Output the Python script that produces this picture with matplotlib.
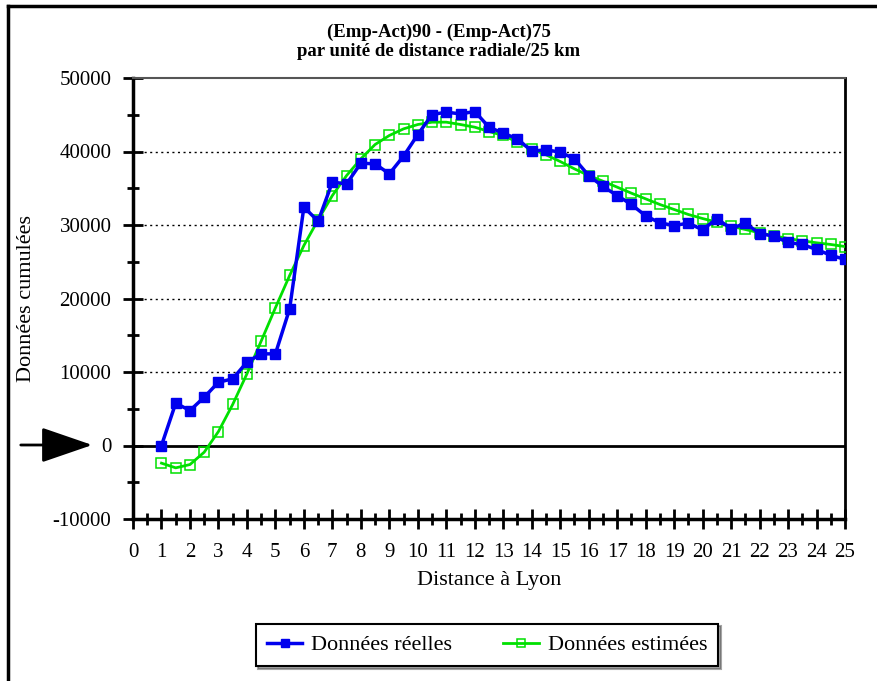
import numpy as np
import matplotlib.pyplot as plt
from matplotlib.ticker import MultipleLocator
from matplotlib.lines import Line2D

plt.rcParams['font.family'] = ['Liberation Serif', 'DejaVu Serif']
plt.rcParams['axes.unicode_minus'] = False

# distance (unités de 25 km)
distance = np.arange(1, 25.5, 0.5)

reelles = [0, 5760, 4760, 6570, 8610, 9070, 11340, 12470, 12470, 18590,
           32430, 30520, 35830, 35600, 38410, 38320, 36960, 39370, 42300, 45030,
           45350, 45120, 45440, 43310, 42490, 41720, 40040, 40230, 39910, 39000,
           36730, 35240, 34010, 32790, 31250, 30290, 29930, 30250, 29340, 30880,
           29480, 30250, 28840, 28480, 27620, 27350, 26670, 25890, 25310]

estimees = [-2400, -3040, -2590, -910, 1900, 5580, 9750, 14200, 18730, 23130,
            27210, 30700, 34010, 36730, 39000, 40950, 42180, 43080, 43670, 43990,
            43990, 43670, 43310, 42720, 42180, 41270, 40360, 39550, 38640, 37640,
            36730, 35960, 35150, 34330, 33560, 32790, 32110, 31430, 30880, 30380,
            29840, 29390, 28940, 28530, 28160, 27850, 27580, 27350, 27070]

fig = plt.figure(figsize=(8.78, 6.81), dpi=100)
ax = fig.add_axes([133/878, 1 - 519/681, (845 - 133)/878, (519 - 78)/681])

ax.axhline(0, color='black', lw=2, zorder=1)
for g in [10000, 20000, 30000, 40000]:
    ax.axhline(g, color='black', lw=1, ls=(0, (1.5, 2.5)), zorder=1)

ax.plot(distance, estimees, color='#00e000', lw=2, marker='s', ms=6.5,
        mfc='none', mec='#00e000', mew=1.1, zorder=3, label='Données estimées')
ax.plot(distance, reelles, color='#0000ee', lw=2.5, marker='s', ms=6.5,
        mfc='#0000ee', mec='#0000ee', zorder=4, label='Données réelles')

ax.set_xlim(0, 25)
ax.set_ylim(-10000, 50000)
ax.xaxis.set_major_locator(MultipleLocator(1))
ax.xaxis.set_minor_locator(MultipleLocator(0.5))
ax.yaxis.set_major_locator(MultipleLocator(10000))
ax.yaxis.set_minor_locator(MultipleLocator(5000))
ax.tick_params(which='major', direction='inout', length=15, width=2, labelsize=15)
ax.tick_params(which='minor', direction='inout', length=8, width=2)
ax.tick_params(axis='x', which='major', pad=10)
ax.tick_params(axis='y', which='major', pad=8)
ax.tick_params(axis='x', which='both', top=False)
ax.tick_params(axis='y', which='both', right=False)

for s in ['left', 'bottom']:
    ax.spines[s].set_linewidth(2.5)
ax.spines['top'].set_linewidth(1.5)
ax.spines['top'].set_color('#555555')
ax.spines['right'].set_linewidth(2)

ax.set_xlabel('Distance à Lyon', fontsize=16, labelpad=6)
ax.set_ylabel('Données cumulées', fontsize=16, labelpad=12)

fig.text(0.5, 1 - 37/681, '(Emp-Act)90 - (Emp-Act)75', ha='center', va='baseline',
         fontsize=13.5, fontweight='bold')
fig.text(0.5, 1 - 56/681, 'par unité de distance radiale/25 km', ha='center', va='baseline',
         fontsize=13.5, fontweight='bold')

# cadre extérieur
fig.add_artist(Line2D([8/878, 1], [1 - 6/681, 1 - 6/681], color='black', lw=2.5))
fig.add_artist(Line2D([8/878, 8/878], [0, 1 - 6/681], color='black', lw=2.5))

# flèche vers zéro
ax.annotate('', xy=(95/878, 1 - 445/681), xytext=(18/878, 1 - 445/681),
            xycoords='figure fraction', textcoords='figure fraction',
            arrowprops=dict(arrowstyle='-|>,head_length=1.6,head_width=0.55',
                            mutation_scale=20, color='black', lw=2))

h, l = ax.get_legend_handles_labels()
leg = fig.legend(h[::-1], l[::-1], loc='center', bbox_to_anchor=(487/878, 1 - 645/681),
                 ncol=2, fontsize=16, frameon=True, fancybox=False, shadow=True,
                 edgecolor='black', handlelength=1.6, columnspacing=2.3,
                 borderpad=0.5, handletextpad=0.4, markerscale=0.8)
leg.get_frame().set_linewidth(1.5)

fig.savefig('out.png', dpi=100)
